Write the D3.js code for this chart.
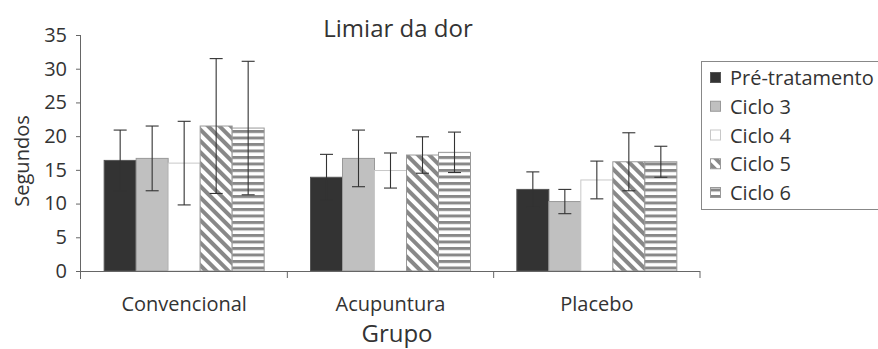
<!DOCTYPE html>
<html>
<head>
<meta charset="utf-8">
<script src="https://cdn.jsdelivr.net/npm/d3@7"></script>
<style>
  html, body { margin: 0; padding: 0; background: #fff; }
  svg text { font-family: "Open Sans", Lato, sans-serif; fill: #333; }
</style>
</head>
<body>
<svg id="chart" width="878" height="349"></svg>
<script>
const categories = ["Convencional", "Acupuntura", "Placebo"];
const series = ["Pré-tratamento", "Ciclo 3", "Ciclo 4", "Ciclo 5", "Ciclo 6"];
const preValues   = [16.4, 13.9, 12.1];
const ciclo3Values = [16.7, 16.7, 10.3];
const ciclo4Values = [16.0, 14.9, 13.5];
const ciclo5Values = [21.5, 17.2, 16.2];
const ciclo6Values = [21.2, 17.6, 16.2];
const preErr    = [4.5, 3.4, 2.6];
const ciclo3Err = [4.8, 4.2, 1.8];
const ciclo4Err = [6.2, 2.6, 2.8];
const ciclo5Err = [10.0, 2.7, 4.3];
const ciclo6Err = [9.9, 3.0, 2.3];
const yTicks = [0, 5, 10, 15, 20, 25, 30, 35];

const values = [preValues, ciclo3Values, ciclo4Values, ciclo5Values, ciclo6Values];
const errs = [preErr, ciclo3Err, ciclo4Err, ciclo5Err, ciclo6Err];

const svg = d3.select("#chart");
const defs = svg.append("defs");

const diag = defs.append("pattern").attr("id", "diag").attr("patternUnits", "userSpaceOnUse")
  .attr("width", 8).attr("height", 8).attr("patternTransform", "rotate(-45)");
diag.append("rect").attr("width", 8).attr("height", 8).attr("fill", "#fff");
diag.append("rect").attr("width", 4).attr("height", 8).attr("fill", "#888");

const horiz = defs.append("pattern").attr("id", "horiz").attr("patternUnits", "userSpaceOnUse")
  .attr("width", 8).attr("height", 6.5);
horiz.append("rect").attr("width", 8).attr("height", 6.5).attr("fill", "#fff");
horiz.append("rect").attr("y", 0).attr("width", 8).attr("height", 3).attr("fill", "#888");

const fills = ["#333333", "#c0c0c0", "#ffffff", "url(#diag)", "url(#horiz)"];
const strokes = ["#555", "#999", "#c8c8c8", "#999", "#999"];

const mLeft = 81, mRight = 700, mTop = 35, mBottom = 271;
const y = d3.scaleLinear().domain([0, 35]).range([mBottom, mTop]);
const x0 = d3.scaleBand().domain(categories).range([mLeft, mRight]).padding(0);
const groupW = 160;
const x1 = d3.scaleBand().domain(series).range([0, groupW]).padding(0);
const offset = (x0.bandwidth() - groupW) / 2;

// bars
series.forEach((s, si) => {
  svg.append("g").selectAll("rect").data(categories).join("rect")
    .attr("x", c => x0(c) + offset + x1(s))
    .attr("y", (c, i) => y(values[si][i]))
    .attr("width", x1.bandwidth())
    .attr("height", (c, i) => y(0) - y(values[si][i]))
    .attr("fill", fills[si])
    .attr("stroke", strokes[si])
    .attr("stroke-width", 1);
});

// error bars
series.forEach((s, si) => {
  const g = svg.append("g").attr("stroke", "#333").attr("stroke-width", 1.1);
  categories.forEach((c, i) => {
    const cx = x0(c) + offset + x1(s) + x1.bandwidth() / 2;
    const hi = y(values[si][i] + errs[si][i]);
    const lo = y(values[si][i] - errs[si][i]);
    g.append("line").attr("x1", cx).attr("x2", cx).attr("y1", hi).attr("y2", lo);
    g.append("line").attr("x1", cx - 6.5).attr("x2", cx + 6.5).attr("y1", hi).attr("y2", hi);
    g.append("line").attr("x1", cx - 6.5).attr("x2", cx + 6.5).attr("y1", lo).attr("y2", lo);
  });
});

// y axis
const yAxis = svg.append("g").attr("transform", `translate(${mLeft},0)`)
  .call(d3.axisLeft(y).tickValues(yTicks).tickSize(5).tickPadding(9));
yAxis.select(".domain").attr("stroke", "#666").attr("d", `M-0.5,${mTop}V${mBottom + 8}`);
yAxis.selectAll(".tick line").attr("stroke", "#666");
yAxis.selectAll(".tick text").style("font-size", "20px").attr("fill", "#333");

// x axis
const xAxis = svg.append("g").attr("transform", `translate(0,${mBottom})`)
  .call(d3.axisBottom(x0).tickSize(0).tickPadding(26));
xAxis.select(".domain").attr("stroke", "#666").attr("d", `M${mLeft},0.5H${mRight}`);
xAxis.selectAll(".tick text").style("font-size", "20px").attr("fill", "#333");
const bounds = [categories[1], categories[2]].map(c => x0(c)).concat([mRight]);
svg.append("g").selectAll("line").data(bounds).join("line")
  .attr("x1", d => d).attr("x2", d => d).attr("y1", mBottom).attr("y2", mBottom + 7)
  .attr("stroke", "#666");

// titles
svg.append("text").attr("x", 398).attr("y", 37).attr("text-anchor", "middle")
  .style("font-size", "24px").text("Limiar da dor");
svg.append("text").attr("x", 397).attr("y", 342).attr("text-anchor", "middle")
  .style("font-size", "24px").text("Grupo");
svg.append("text").attr("transform", `translate(29,${(mTop + mBottom) / 2 + 8}) rotate(-90)`)
  .attr("text-anchor", "middle").style("font-size", "20px").text("Segundos");

// legend
const lg = svg.append("g");
lg.append("rect").attr("x", 701.5).attr("y", 61.5).attr("width", 200).attr("height", 148)
  .attr("fill", "#fff").attr("stroke", "#888");
const rowY = d3.scalePoint().domain(series).range([78, 193]);
series.forEach((s, si) => {
  lg.append("rect").attr("x", 710.5).attr("y", rowY(s) - 5.5).attr("width", 10).attr("height", 10)
    .attr("fill", fills[si]).attr("stroke", strokes[si]);
  lg.append("text").attr("x", 730).attr("y", rowY(s)).attr("dy", "0.35em")
    .style("font-size", "20px").text(s);
});
</script>
</body>
</html>
